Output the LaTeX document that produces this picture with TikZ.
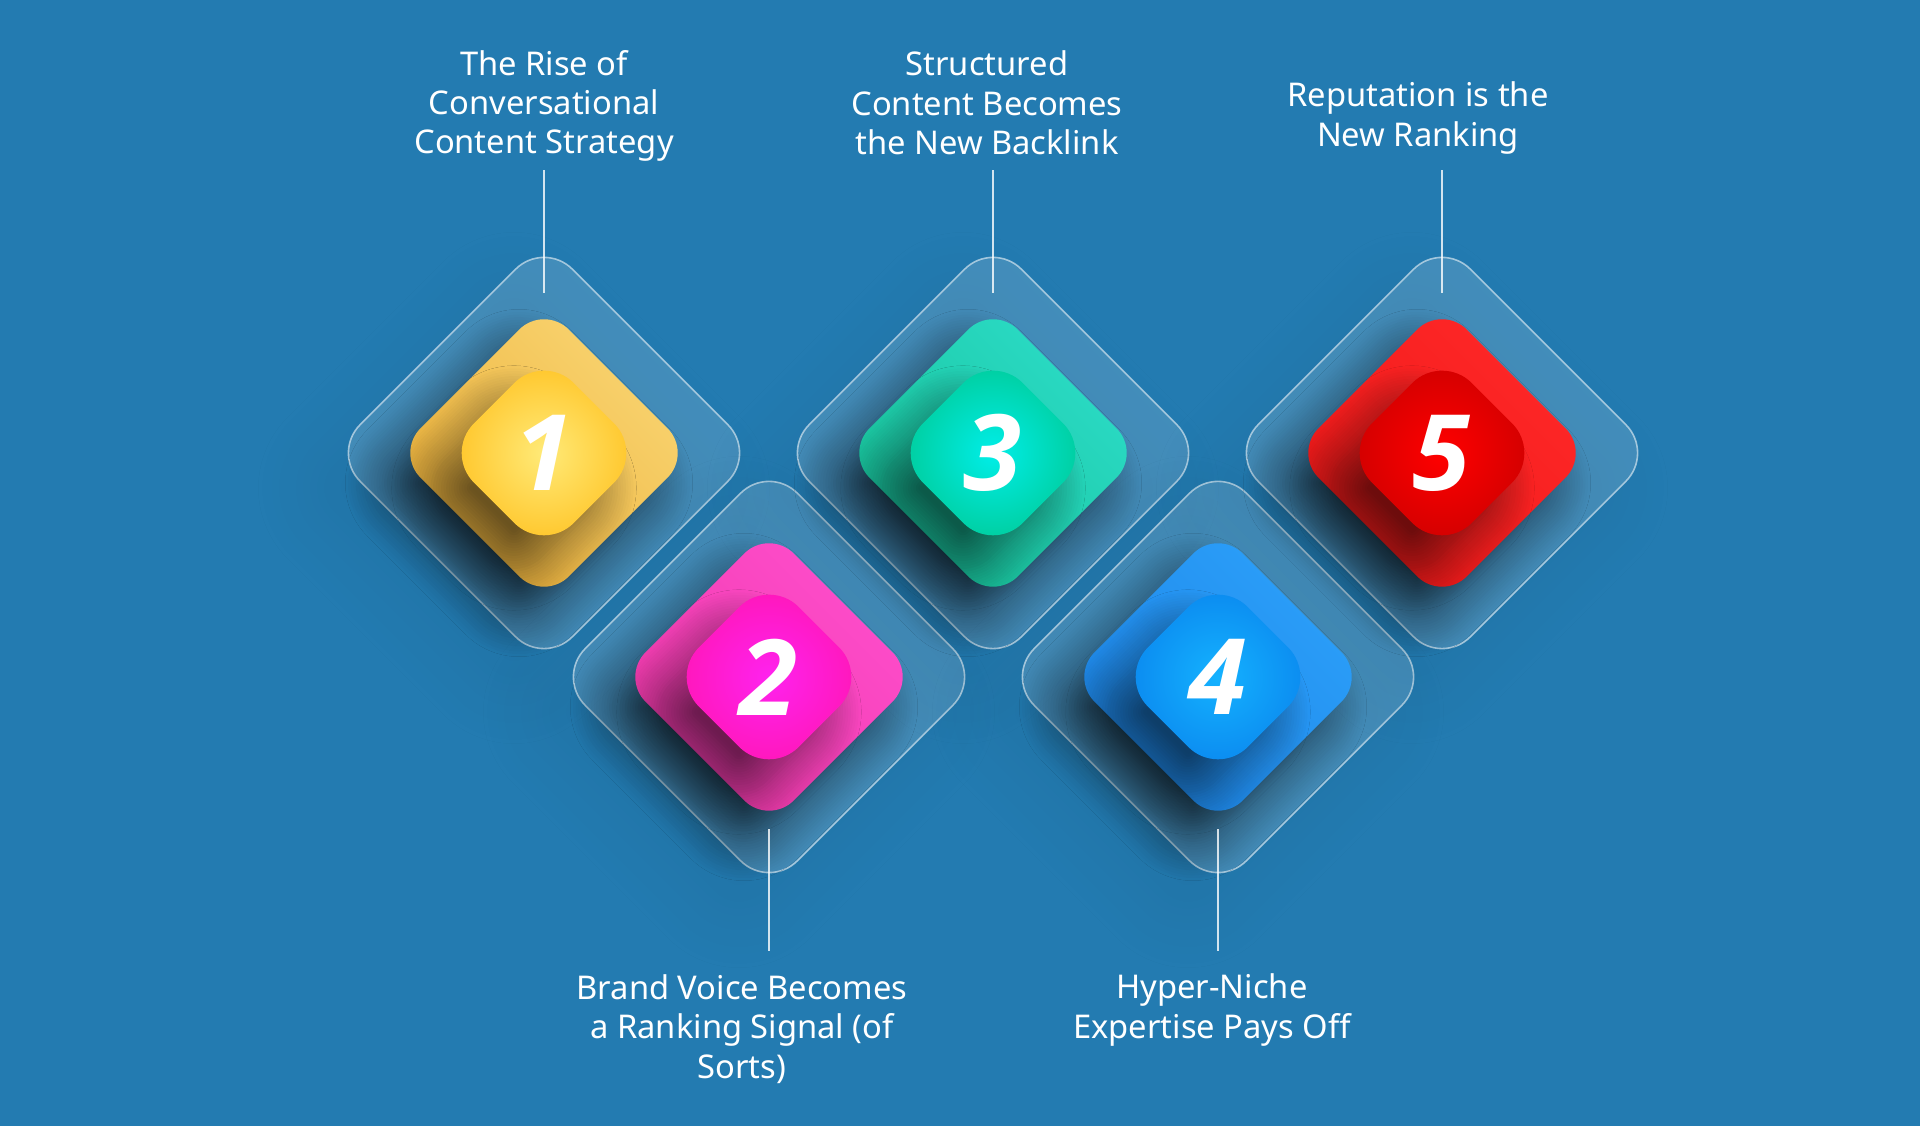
\documentclass[tikz,border=0pt]{standalone}
\usepackage{fontspec}
\setmainfont{Noto Sans}
\newfontfamily\digitfont{Open Sans}
\usetikzlibrary{shapes.geometric, shadows.blur}

\definecolor{bgblue}{RGB}{35,123,177}
\definecolor{yelTileL}{RGB}{249,213,114}
\definecolor{yelTileD}{RGB}{236,176,56}
\definecolor{yelCoreL}{RGB}{255,234,120}
\definecolor{yelCoreD}{RGB}{255,194,34}
\definecolor{pnkTileL}{RGB}{255,78,205}
\definecolor{pnkTileD}{RGB}{238,56,168}
\definecolor{pnkCoreL}{RGB}{255,34,238}
\definecolor{pnkCoreD}{RGB}{255,22,180}
\definecolor{grnTileL}{RGB}{44,220,200}
\definecolor{grnTileD}{RGB}{22,194,152}
\definecolor{grnCoreL}{RGB}{0,238,232}
\definecolor{grnCoreD}{RGB}{0,202,150}
\definecolor{bluTileL}{RGB}{44,160,250}
\definecolor{bluTileD}{RGB}{28,132,230}
\definecolor{bluCoreL}{RGB}{20,178,255}
\definecolor{bluCoreD}{RGB}{10,134,238}
\definecolor{redTileL}{RGB}{255,40,40}
\definecolor{redTileD}{RGB}{238,24,24}
\definecolor{redCoreL}{RGB}{255,0,0}
\definecolor{redCoreD}{RGB}{205,0,0}

\tikzset{
  glass/.style={diamond, aspect=1, inner sep=0pt, minimum size=42.5mm, rounded corners=4mm,
    blur shadow={shadow xshift=-3mm, shadow yshift=-3.5mm, shadow opacity=40,
      shadow blur radius=6mm, shadow blur steps=18},
    fill=white, fill opacity=0.15, draw=white, draw opacity=0.55, line width=0.45pt},
  tile/.style n args={2}{diamond, aspect=1, inner sep=0pt, minimum size=29.7mm, rounded corners=3.5mm,
    blur shadow={shadow xshift=-2.5mm, shadow yshift=-3mm, shadow opacity=55,
      shadow blur radius=4mm, shadow blur steps=16},
    bottom color=#1, top color=#2, shading angle=-45},
  core/.style n args={2}{diamond, aspect=1, inner sep=0pt, minimum size=20mm, rounded corners=4.2mm,
    blur shadow={shadow xshift=-3mm, shadow yshift=-3.5mm, shadow opacity=55,
      shadow blur radius=4mm, shadow blur steps=16},
    outer color=#1, inner color=#2,
    text=white, font=\digitfont\bfseries\itshape\fontsize{30pt}{30pt}\selectfont},
  lbl/.style={align=center, text=white, font=\fontsize{9.3pt}{11.2pt}\selectfont},
  leader/.style={draw=white, draw opacity=0.8, line width=0.45pt}
}

\begin{document}
\begin{tikzpicture}[x=0.1mm, y=-0.1mm]
  \fill[bgblue] (0,0) rectangle (1920,1126);
  \useasboundingbox (0,0) rectangle (1920,1126);

  % glass plates
  \node[glass] (g1) at (544,453) {};
  \node[glass] (g2) at (769,677) {};
  \node[glass] (g3) at (993,453) {};
  \node[glass] (g4) at (1218,677) {};
  \node[glass] (g5) at (1442,453) {};

  % coloured tiles
  \node[tile={yelTileD}{yelTileL}] (t1) at (g1) {};
  \node[tile={pnkTileD}{pnkTileL}] (t2) at (g2) {};
  \node[tile={grnTileD}{grnTileL}] (t3) at (g3) {};
  \node[tile={bluTileD}{bluTileL}] (t4) at (g4) {};
  \node[tile={redTileD}{redTileL}] (t5) at (g5) {};

  % numbered cores
  \node[core={yelCoreD}{yelCoreL}] (c1) at (t1) {1};
  \node[core={pnkCoreD}{pnkCoreL}] (c2) at (t2) {2};
  \node[core={grnCoreD}{grnCoreL}] (c3) at (t3) {3};
  \node[core={bluCoreD}{bluCoreL}] (c4) at (t4) {4};
  \node[core={redCoreD}{redCoreL}] (c5) at (t5) {5};

  % labels
  \node[lbl] (lab1) at (544,106) {The Rise of\\Conversational\\Content Strategy};
  \node[lbl] (lab3) at (987,103) {Structured\\Content Becomes\\the New Backlink};
  \node[lbl] (lab5) at (1418,118) {Reputation is the\\New Ranking};
  \node[lbl] (lab2) at (742,1029) {Brand Voice Becomes\\a Ranking Signal (of\\Sorts)};
  \node[lbl] (lab4) at (1212,1010) {Hyper-Niche\\Expertise Pays Off};

  % leaders
  \draw[leader] ([yshift=6.95mm]g1.north) -- ([yshift=-5.35mm]g1.north);
  \draw[leader] ([yshift=6.95mm]g3.north) -- ([yshift=-5.35mm]g3.north);
  \draw[leader] ([yshift=6.95mm]g5.north) -- ([yshift=-5.35mm]g5.north);
  \draw[leader] ([yshift=6.15mm]g2.south) -- ([yshift=-6.05mm]g2.south);
  \draw[leader] ([yshift=6.15mm]g4.south) -- ([yshift=-6.05mm]g4.south);
\end{tikzpicture}
\end{document}
